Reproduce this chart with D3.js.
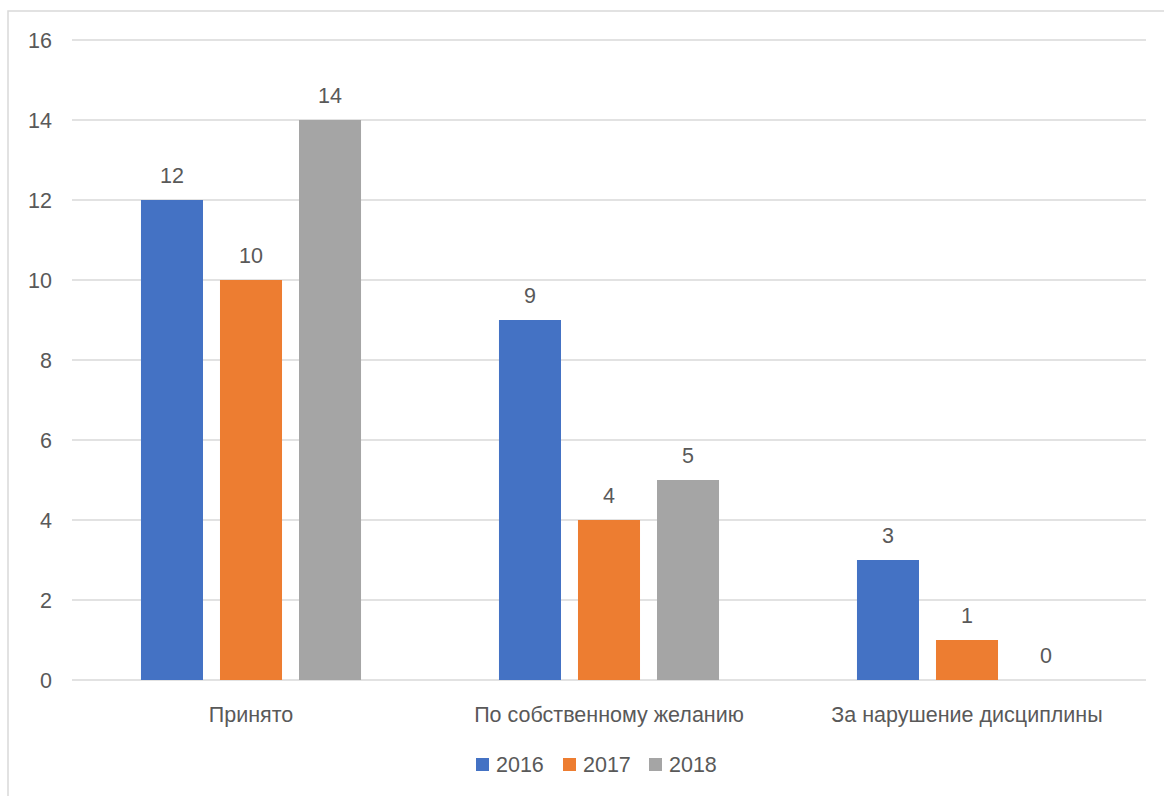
<!DOCTYPE html>
<html><head><meta charset="utf-8">
<script src="https://cdn.jsdelivr.net/npm/d3@7"></script>
<style>body{margin:0;background:#fff}svg{display:block}text{font-family:"Liberation Sans",Arial,sans-serif;fill:#595959}</style>
</head><body>
<script>
const categories = ["Принято", "По собственному желанию", "За нарушение дисциплины"];
const seriesNames = ["2016", "2017", "2018"];
const values2016 = [12, 9, 3];
const values2017 = [10, 4, 1];
const values2018 = [14, 5, 0];
const colors = ["#4472c4", "#ed7d31", "#a5a5a5"];
const yTicks = [0, 2, 4, 6, 8, 10, 12, 14, 16];

const seriesValues = [values2016, values2017, values2018];
const W = 1164, H = 796;
const FS = 21.5;
const svg = d3.select("body").append("svg").attr("width", W).attr("height", H);

svg.append("rect").attr("x", 8).attr("y", 11).attr("width", W + 20).attr("height", H + 20)
  .attr("fill", "#fff").attr("stroke", "#d9d9d9").attr("stroke-width", 1.5);

const x = d3.scaleBand().domain(categories).range([72, 1146]).padding(0);
const xs = d3.scaleBand().domain(seriesNames).range([0, x.bandwidth()]).paddingInner(0.215).paddingOuter(0.873);
const y = d3.scaleLinear().domain([0, 16]).range([680, 40]);

// gridlines
svg.append("g").selectAll("line").data(yTicks).join("line")
  .attr("x1", 72).attr("x2", 1146)
  .attr("y1", d => y(d)).attr("y2", d => y(d))
  .attr("stroke", "#d9d9d9").attr("stroke-width", 1.5);

// y labels
svg.append("g").selectAll("text").data(yTicks).join("text")
  .attr("x", 52).attr("y", d => y(d)).attr("dy", "0.36em")
  .attr("text-anchor", "end").attr("font-size", FS).text(d => d);

// bars
const groups = svg.append("g").selectAll("g").data(categories).join("g")
  .attr("transform", c => `translate(${x(c)},0)`);
groups.each(function(c, ci) {
  const g = d3.select(this);
  seriesNames.forEach((s, si) => {
    const v = seriesValues[si][ci];
    g.append("rect").attr("x", xs(s)).attr("y", y(v))
      .attr("width", xs.bandwidth()).attr("height", y(0) - y(v))
      .attr("fill", colors[si]);
    g.append("text").attr("x", xs(s) + xs.bandwidth() / 2).attr("y", y(v) - 17)
      .attr("text-anchor", "middle").attr("font-size", FS).text(v);
  });
});

// x axis labels
svg.append("g").selectAll("text").data(categories).join("text")
  .attr("x", c => x(c) + x.bandwidth() / 2).attr("y", 722)
  .attr("text-anchor", "middle").attr("font-size", FS).text(c => c);

// legend
const legendX = [476, 563, 649];
const lg = svg.append("g").selectAll("g").data(seriesNames).join("g")
  .attr("transform", (d, i) => `translate(${legendX[i]},758)`);
lg.append("rect").attr("width", 13).attr("height", 13).attr("fill", (d, i) => colors[i]);
lg.append("text").attr("x", 20).attr("y", 6.5).attr("dy", "0.36em").attr("font-size", FS).text(d => d);
</script>
</body></html>
